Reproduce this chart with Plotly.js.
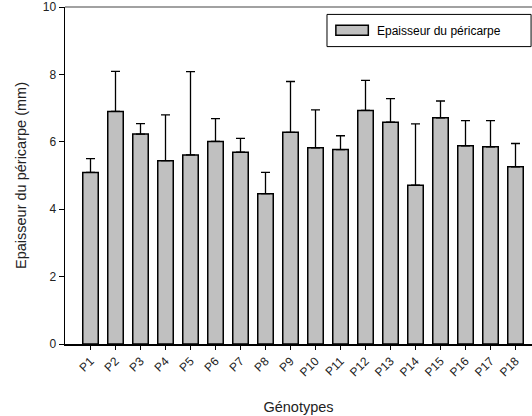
<!DOCTYPE html>
<html>
<head>
<meta charset="utf-8">
<script src="https://cdn.plot.ly/plotly-3.0.1.min.js"></script>
<style>
  html, body { margin: 0; padding: 0; background: #fff; }
  #chart { width: 532px; height: 416px; }
</style>
</head>
<body>
<div id="chart"></div>
<script>
// Pericarp thickness per genotype (mean + standard deviation, mm)
const genotypes = ['P1','P2','P3','P4','P5','P6','P7','P8','P9','P10','P11','P12','P13','P14','P15','P16','P17','P18'];
const thickness = [5.09, 6.90, 6.23, 5.44, 5.61, 6.01, 5.69, 4.46, 6.28, 5.82, 5.77, 6.93, 6.58, 4.71, 6.71, 5.88, 5.85, 5.26];
const deviation = [0.41, 1.19, 0.31, 1.36, 2.47, 0.68, 0.41, 0.63, 1.51, 1.13, 0.41, 0.89, 0.70, 1.82, 0.50, 0.75, 0.78, 0.69];
const zeros = deviation.map(() => 0);

const seriesName = 'Epaisseur du péricarpe';
const fontFamily = 'Liberation Sans, Arial, sans-serif';

const trace = {
  type: 'bar',
  x: genotypes,
  y: thickness,
  name: seriesName,
  width: 0.62,
  marker: { color: '#c0c0c0', line: { color: '#000', width: 1.5 } },
  error_y: {
    type: 'data',
    symmetric: false,
    array: deviation,
    arrayminus: zeros,
    color: '#000',
    thickness: 1.3,
    width: 4.5
  },
  showlegend: false,
  hoverinfo: 'x+y'
};

const layout = {
  width: 532,
  height: 416,
  margin: { l: 65, r: 0, t: 7, b: 72 },
  paper_bgcolor: '#fff',
  plot_bgcolor: '#fff',
  font: { family: fontFamily, size: 12, color: '#222' },
  showlegend: false,
  xaxis: {
    type: 'category',
    range: [-1.02, 17.66],
    tickangle: -45,
    ticks: 'outside',
    ticklen: 4,
    tickwidth: 1,
    tickcolor: '#000',
    showline: true,
    linecolor: '#000',
    linewidth: 1.5,
    showgrid: false,
    zeroline: false,
    tickfont: { size: 12 },
    ticklabeloverflow: 'allow',
    automargin: false,
    title: { text: 'Génotypes', font: { size: 14.5 }, standoff: 23 }
  },
  yaxis: {
    range: [0, 10],
    dtick: 2,
    ticks: 'outside',
    ticklen: 5,
    tickwidth: 1,
    tickcolor: '#000',
    showline: true,
    linecolor: '#000',
    linewidth: 1.5,
    showgrid: false,
    zeroline: false,
    tickfont: { size: 12 },
    ticklabeloverflow: 'allow',
    automargin: false,
    title: { text: 'Epaisseur du péricarpe (mm)', font: { size: 14.5 }, standoff: 12 }
  },
  shapes: [
    // top frame line
    { type: 'line', xref: 'paper', yref: 'paper', x0: 0, x1: 1, y0: 1, y1: 1,
      line: { color: '#444', width: 1.2 } },
    // legend box
    { type: 'rect', xref: 'paper', yref: 'paper', x0: 0.561, x1: 0.998, y0: 0.8825, y1: 0.978,
      line: { color: '#000', width: 1 }, fillcolor: '#fff' },
    // legend swatch
    { type: 'rect', xref: 'paper', yref: 'paper', x0: 0.580, x1: 0.6495, y0: 0.916, y1: 0.9457,
      line: { color: '#000', width: 1.5 }, fillcolor: '#c0c0c0' }
  ],
  annotations: [
    { xref: 'paper', yref: 'paper', x: 0.6638, y: 0.930, xanchor: 'left', yanchor: 'middle',
      text: seriesName, showarrow: false, font: { size: 12, family: fontFamily, color: '#000' } }
  ]
};

Plotly.newPlot('chart', [trace], layout, { displayModeBar: false, staticPlot: true });
</script>
</body>
</html>
